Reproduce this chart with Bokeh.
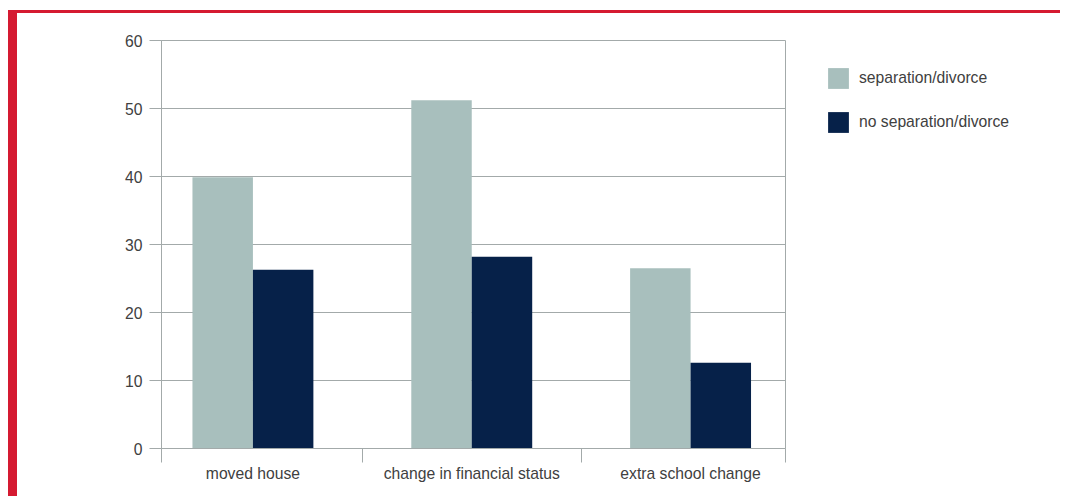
from bokeh.plotting import figure
from bokeh.models import (ColumnDataSource, FixedTicker, Legend, LegendItem,
                          Range1d, Div, Spacer)
from bokeh.layouts import column, row
from bokeh.transform import dodge
from bokeh.embed import file_html
from bokeh.resources import INLINE

categories = ["moved house", "change in financial status", "extra school change"]
series_names = ["separation/divorce", "no separation/divorce"]
separation = [39.9, 51.2, 26.5]
no_separation = [26.3, 28.2, 12.6]
y_ticks = [0, 10, 20, 30, 40, 50, 60]

colors = ["#a8bfbd", "#062149"]
grey = "#a3aaaa"
text_color = "#404040"
red = "#d51a31"
font = "Liberation Sans"
fsize = "15.7px"

x = list(range(len(categories)))
source = ColumnDataSource(dict(x=x, sep=separation, nosep=no_separation))

p = figure(width=770, height=483, output_backend="svg", toolbar_location=None,
           x_range=Range1d(-0.4178, 2.4338), y_range=Range1d(0, 60),
           min_border_left=144, min_border_right=2, min_border_top=27,
           min_border_bottom=48, margin=0)

bw = 0.2763
p.vbar(x=dodge("x", -bw / 2, range=p.x_range), top="sep", bottom=0, width=bw,
       fill_color=colors[0], line_color=None, source=source)
p.vbar(x=dodge("x", bw / 2, range=p.x_range), top="nosep", bottom=0, width=bw,
       fill_color=colors[1], line_color=None, source=source)

p.xgrid.visible = False
p.ygrid.grid_line_color = grey
p.ygrid.ticker = FixedTicker(ticks=y_ticks)
p.outline_line_color = grey

xa = p.xaxis[0]
xa.ticker = FixedTicker(ticks=x, minor_ticks=[-0.4175, 0.5, 1.5, 2.4335])
xa.major_label_overrides = {i: c for i, c in zip(x, categories)}
xa.major_tick_out = 0
xa.major_tick_in = 0
xa.minor_tick_out = 14
xa.minor_tick_in = 0
xa.minor_tick_line_color = grey
xa.axis_line_color = grey
xa.major_label_standoff = 2
xa.major_label_text_font = font
xa.major_label_text_font_size = fsize
xa.major_label_text_color = text_color

ya = p.yaxis[0]
ya.ticker = FixedTicker(ticks=y_ticks)
ya.major_tick_out = 12
ya.major_tick_in = 0
ya.minor_tick_out = 0
ya.minor_tick_in = 0
ya.major_tick_line_color = grey
ya.axis_line_color = grey
ya.major_label_standoff = 7
ya.major_label_text_font = font
ya.major_label_text_font_size = fsize
ya.major_label_text_color = text_color

# legend panel (separate canvas to the right of the plot frame)
lf = figure(width=273, height=483, output_backend="svg", toolbar_location=None,
            x_range=Range1d(0, 1), y_range=Range1d(0, 1),
            x_axis_location=None, y_axis_location=None,
            min_border=0, margin=0)
lf.title.visible = False
lf.grid.visible = False
lf.outline_line_color = None
# swatches only: the point lies outside the visible range
swatch = ColumnDataSource(dict(x=[5], top=[1]))
l1 = lf.vbar(x="x", top="top", width=0.1, fill_color=colors[0], line_color=None, source=swatch)
l2 = lf.vbar(x="x", top="top", width=0.1, fill_color=colors[1], line_color=None, source=swatch)
legend = Legend(items=[LegendItem(label=series_names[0], renderers=[l1]),
                       LegendItem(label=series_names[1], renderers=[l2])],
                location=(38, 313), glyph_width=26, glyph_height=26, spacing=18,
                label_standoff=8, padding=0, margin=0, border_line_color=None,
                background_fill_alpha=0, label_text_font=font,
                label_text_font_size=fsize, label_text_color=text_color)
lf.add_layout(legend)

red_style = {"background-color": red, "overflow": "hidden"}
top_bar = Div(text="", width=1052, height=3, margin=0, styles=red_style)
left_bar = Div(text="", width=9, height=483, margin=0, styles=red_style)

layout = column(
    Spacer(width=1060, height=10, margin=0),
    row(Spacer(width=8, height=486, margin=0),
        column(top_bar, row(left_bar, p, lf, spacing=0), spacing=0),
        spacing=0),
    spacing=0,
)

open("out.html", "w").write(file_html(layout, INLINE))
